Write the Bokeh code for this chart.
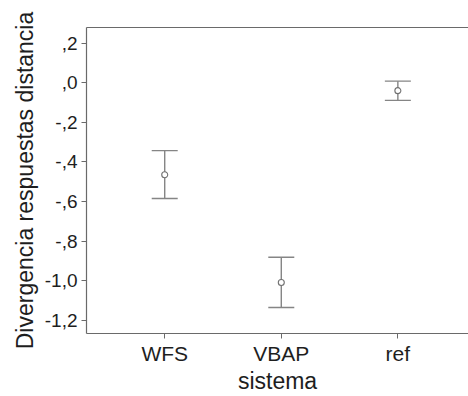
from bokeh.plotting import figure
from bokeh.models import ColumnDataSource, Whisker, TeeHead, Range1d, FixedTicker, LinearAxis
from bokeh.embed import file_html
from bokeh.resources import INLINE

# ---- data ----
categories = ["WFS", "VBAP", "ref"]
means = [-0.465, -1.009, -0.040]
upper = [-0.343, -0.882, 0.008]
lower = [-0.585, -1.136, -0.089]
y_ticks = [0.2, 0.0, -0.2, -0.4, -0.6, -0.8, -1.0, -1.2]
y_tick_labels = [",2", ",0", "-,2", "-,4", "-,6", "-,8", "-1,0", "-1,2"]
x_title = "sistema"
y_title = "Divergencia respuestas distancia"

xpos = list(range(1, len(categories) + 1))
src = ColumnDataSource(dict(x=xpos, mean=means, upper=upper, lower=lower))

AXIS = "#6a6a6a"
BAR = "#858585"
TEXT = "#1e1e1e"
FONT = "Liberation Sans"

p = figure(width=468, height=396, output_backend="svg", toolbar_location=None,
           x_range=Range1d(0.329, 3.606), y_range=Range1d(-1.267, 0.279),
           min_border_left=86, min_border_top=27, min_border_bottom=61, min_border_right=0)
p.outline_line_color = None
p.grid.visible = False
p.background_fill_color = "white"
p.border_fill_color = "white"

# error bars
wh = Whisker(base="x", upper="upper", lower="lower", source=src, dimension="height",
             line_color=BAR, line_width=1.4,
             upper_head=TeeHead(size=26, line_color=BAR, line_width=1.4),
             lower_head=TeeHead(size=26, line_color=BAR, line_width=1.4))
p.add_layout(wh)
p.scatter("x", "mean", source=src, size=6, marker="circle", fill_color="white",
          line_color="#707070", line_width=1.1)

# x axis
xa = p.xaxis[0]
xa.ticker = FixedTicker(ticks=xpos)
xa.major_label_overrides = {x: c for x, c in zip(xpos, categories)}
xa.minor_tick_line_color = None
xa.major_tick_out = 5
xa.major_tick_in = 0
xa.major_tick_line_color = AXIS
xa.axis_line_color = AXIS
xa.axis_line_width = 1.2
xa.major_label_text_font = FONT
xa.major_label_text_font_size = "21px"
xa.major_label_text_color = TEXT
xa.major_label_standoff = 3
xa.axis_label = x_title
xa.axis_label_text_font = FONT
xa.axis_label_text_font_size = "23px"
xa.axis_label_text_font_style = "normal"
xa.axis_label_text_color = TEXT
xa.axis_label_standoff = 0

# y axis
ya = p.yaxis[0]
ya.ticker = FixedTicker(ticks=y_ticks)
ya.major_label_overrides = {t: l for t, l in zip(y_ticks, y_tick_labels)}
ya.minor_tick_line_color = None
ya.major_tick_out = 5
ya.major_tick_in = 0
ya.major_tick_line_color = AXIS
ya.axis_line_color = AXIS
ya.axis_line_width = 1.2
ya.major_label_text_font = FONT
ya.major_label_text_font_size = "19px"
ya.major_label_text_color = TEXT
ya.major_label_standoff = 4
ya.axis_label = y_title
ya.axis_label_text_font = FONT
ya.axis_label_text_font_size = "23px"
ya.axis_label_text_font_style = "normal"
ya.axis_label_text_color = TEXT
ya.axis_label_standoff = 4

# top frame line
top = LinearAxis(ticker=FixedTicker(ticks=[]), axis_line_color=AXIS, axis_line_width=1.2,
                 major_tick_line_color=None, minor_tick_line_color=None,
                 major_label_text_font_size="0px")
p.add_layout(top, "above")

open("out.html", "w").write(file_html(p, INLINE))
